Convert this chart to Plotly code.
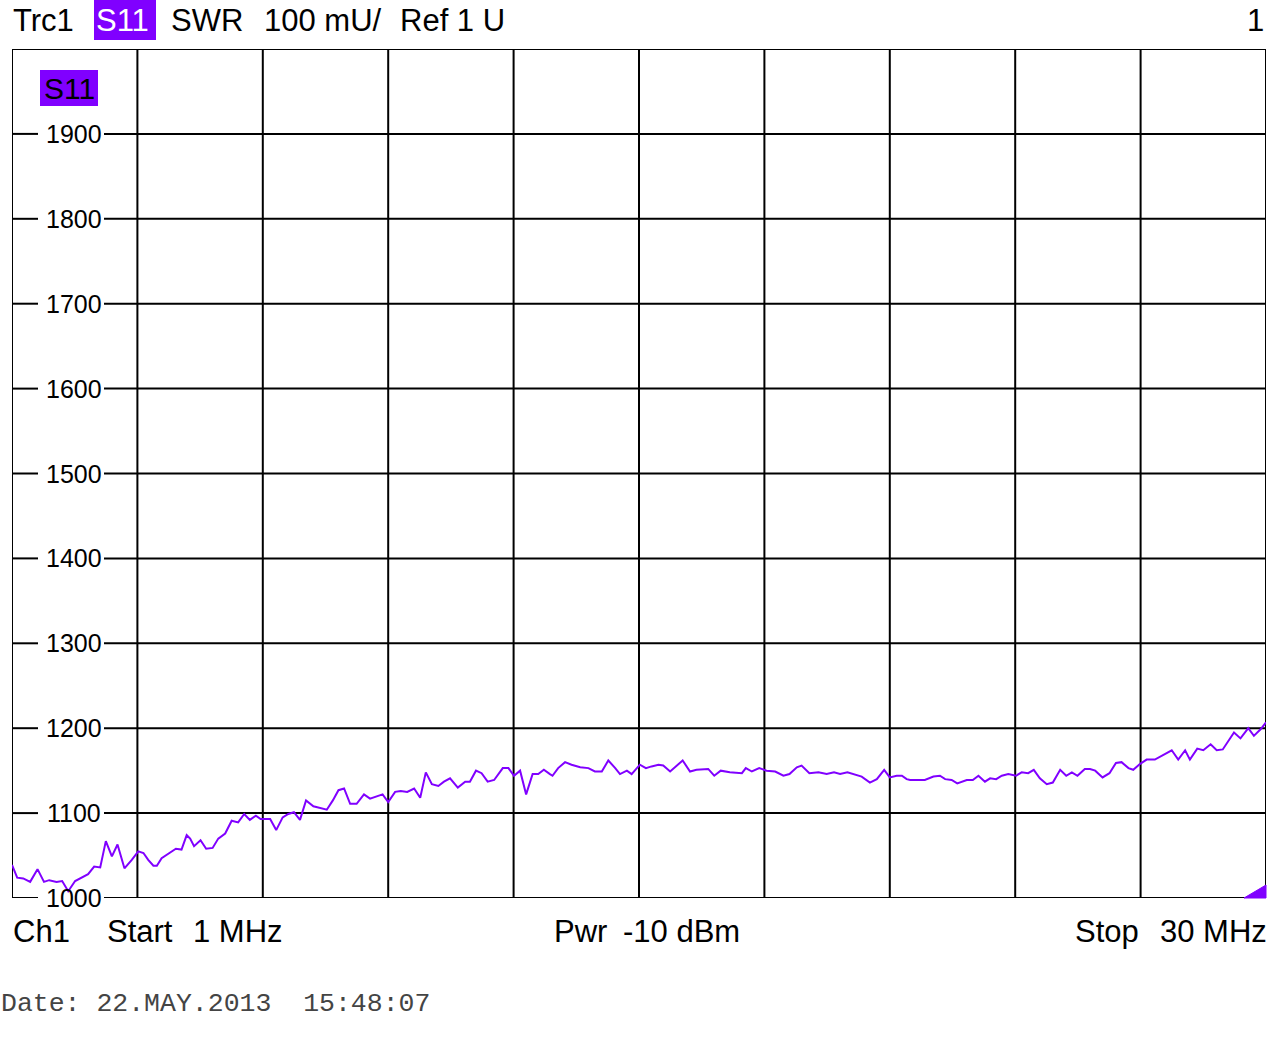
import plotly.graph_objects as go

# ---------------- data ----------------
freq_mhz = [1.00, 1.12, 1.26, 1.42, 1.59, 1.74, 1.86, 2.03, 2.16, 2.30, 2.46, 2.61, 2.76, 2.90, 3.04,
            3.17, 3.31, 3.44, 3.60, 3.77, 3.92, 4.04, 4.15, 4.27, 4.35, 4.46, 4.65, 4.79, 4.92, 5.04,
            5.12, 5.21, 5.36, 5.49, 5.64, 5.77, 5.93, 6.08, 6.23, 6.37, 6.50, 6.64, 6.75, 6.97, 7.11,
            7.26, 7.39, 7.52, 7.66, 7.80, 7.97, 8.12, 8.28, 8.42, 8.55, 8.68, 8.82, 8.97, 9.14, 9.28,
            9.42, 9.57, 9.70, 9.86, 9.99, 10.14, 10.30, 10.44, 10.57, 10.71, 10.86, 10.99, 11.13, 11.31,
            11.48, 11.59, 11.73, 11.86, 12.00, 12.15, 12.35, 12.48, 12.61, 12.75, 12.89, 13.04, 13.17,
            13.30, 13.44,
            13.50, 13.63, 13.79, 13.94, 14.14, 14.33, 14.48, 14.64, 14.79, 14.95, 15.06, 15.22, 15.33,
            15.52, 15.66, 15.79, 15.95, 16.06, 16.22, 16.51, 16.68, 16.83, 17.10, 17.24, 17.39, 17.60,
            17.88, 17.97, 18.11, 18.28, 18.45, 18.65, 18.84, 18.98, 19.15, 19.26, 19.44, 19.65, 19.84,
            20.01, 20.15, 20.32, 20.50, 20.65, 20.84, 21.00, 21.17, 21.30, 21.46, 21.58, 21.69,
            21.77, 22.11, 22.31, 22.46, 22.58, 22.73, 22.86, 23.08, 23.22, 23.35, 23.50, 23.62, 23.76,
            23.89, 24.04, 24.22, 24.35, 24.50, 24.63, 24.77, 24.93, 25.07, 25.24, 25.38, 25.51, 25.64,
            25.81, 25.93,
            26.05, 26.22, 26.38, 26.53, 26.66, 26.82, 26.93, 27.09, 27.24, 27.43, 27.57, 27.70, 27.82,
            27.97, 28.13, 28.24, 28.41, 28.55, 28.72, 28.86, 29.00, 29.26, 29.41, 29.59, 29.72, 29.88,
            30.00]

swr_mu = [1039, 1024, 1023, 1019, 1034, 1019, 1021, 1019, 1020, 1008, 1020, 1024, 1028, 1037, 1036,
          1067, 1049, 1063, 1035, 1045, 1055, 1053, 1045, 1038, 1038, 1047, 1053, 1058, 1057, 1074,
          1070, 1061, 1068, 1058, 1059, 1070, 1076, 1091, 1089, 1099, 1092, 1097, 1093, 1093, 1080,
          1095, 1099, 1101, 1092, 1115, 1108, 1106, 1104, 1115, 1127, 1129, 1111, 1111, 1122, 1117,
          1119, 1122, 1113, 1125, 1126, 1125, 1129, 1118, 1148, 1134, 1132, 1137, 1141, 1130,
          1137, 1137, 1150, 1147, 1137, 1139, 1153, 1153, 1144, 1150, 1122, 1146, 1146,
          1151, 1146,
          1144, 1153, 1160, 1157, 1154, 1153, 1149, 1149, 1162, 1153, 1146, 1150, 1146,
          1157, 1153, 1155, 1157, 1156, 1149, 1162, 1149, 1151, 1152, 1144, 1150, 1148,
          1147, 1153, 1149, 1153, 1150, 1149, 1144, 1146, 1154, 1156, 1147, 1148, 1146,
          1148, 1146, 1148, 1145, 1143, 1136, 1140, 1151, 1142, 1144, 1144, 1140,
          1139, 1139, 1143, 1144, 1140, 1139, 1135, 1139, 1139, 1144, 1137, 1141, 1140,
          1144, 1146, 1144, 1148, 1147, 1151, 1141, 1134, 1136, 1151, 1144, 1148, 1144,
          1152, 1152,
          1150, 1142, 1147, 1159, 1160, 1153, 1151, 1158, 1163, 1163, 1167, 1170, 1174,
          1163, 1174, 1163, 1176, 1174, 1181, 1174, 1175, 1195, 1188, 1200, 1191, 1199,
          1207]

x_grid_mhz = [1.0, 3.9, 6.8, 9.7, 12.6, 15.5, 18.4, 21.3, 24.2, 27.1, 30.0]
y_grid = [1000, 1100, 1200, 1300, 1400, 1500, 1600, 1700, 1800, 1900, 2000]
y_tick_labels = ["1000", "1100", "1200", "1300", "1400", "1500", "1600", "1700", "1800", "1900"]

header_texts = ["Trc1", "S11", "SWR", "100 mU/", "Ref 1 U"]
footer_texts = ["Ch1", "Start", "1 MHz", "Pwr", "-10 dBm", "Stop", "30 MHz"]
date_text = "Date:\u00a022.MAY.2013\u00a0\u00a015:48:07"

# ---------------- layout helpers (pixel -> paper) ----------------
W, H = 1278, 1052
L, R, T, B = 12, 1266, 49, 898
PURPLE = "#8000ff"
SANS = "Liberation Sans, Arial, sans-serif"


def px(x):
    return (x - L) / (R - L)


def py(y):
    return (B - y) / (B - T)


fig = go.Figure()
fig.add_trace(go.Scatter(x=freq_mhz, y=swr_mu, mode="lines",
                         line=dict(color=PURPLE, width=2), hoverinfo="skip",
                         showlegend=False))

shapes = []
# vertical grid lines
for xv in x_grid_mhz:
    shapes.append(dict(type="line", xref="x", yref="paper", x0=xv, x1=xv, y0=0, y1=1,
                       line=dict(color="black", width=2), layer="below"))
# horizontal grid lines, broken where the level label sits
gap0, gap1 = px(38), px(104)
for yv in y_grid:
    if yv == y_grid[-1]:
        shapes.append(dict(type="line", xref="paper", yref="y", x0=0, x1=1, y0=yv, y1=yv,
                           line=dict(color="black", width=2), layer="below"))
    else:
        shapes.append(dict(type="line", xref="paper", yref="y", x0=0, x1=gap0, y0=yv, y1=yv,
                           line=dict(color="black", width=2), layer="below"))
        shapes.append(dict(type="line", xref="paper", yref="y", x0=gap1, x1=1, y0=yv, y1=yv,
                           line=dict(color="black", width=2), layer="below"))

# header S11 highlight box
shapes.append(dict(type="rect", xref="paper", yref="paper", x0=px(94), x1=px(156),
                   y0=py(40), y1=py(0), fillcolor=PURPLE, line=dict(width=0), layer="below"))
# in-plot S11 box
shapes.append(dict(type="rect", xref="paper", yref="paper", x0=px(40), x1=px(98),
                   y0=py(106), y1=py(70), fillcolor=PURPLE, line=dict(width=0), layer="below"))
# small triangle marker at bottom-right
shapes.append(dict(type="path", xref="paper", yref="paper",
                   path=f"M {px(1244)},{py(898)} L {px(1266)},{py(898)} L {px(1266)},{py(885)} Z",
                   fillcolor=PURPLE, line=dict(color=PURPLE, width=1), layer="above"))

ann = []
# level labels
for lab in y_tick_labels:
    ann.append(dict(text=lab, xref="paper", yref="y", x=px(74), y=float(lab),
                    xanchor="center", yanchor="middle", showarrow=False, borderpad=0,
                    font=dict(family=SANS, size=25, color="black")))

# header
header_pos = [12, 95, 170, 263, 399]
for t, xpos in zip(header_texts, header_pos):
    ann.append(dict(text=t, xref="paper", yref="paper", x=px(xpos), y=py(21),
                    xanchor="left", yanchor="middle", showarrow=False, borderpad=0,
                    font=dict(family=SANS, size=31, color="white" if t == "S11" else "black")))
ann.append(dict(text="1", xref="paper", yref="paper", x=px(1265), y=py(21),
                xanchor="right", yanchor="middle", showarrow=False, borderpad=0,
                font=dict(family=SANS, size=31, color="black")))
# in-plot S11
ann.append(dict(text="S11", xref="paper", yref="paper", x=px(69), y=py(88),
                xanchor="center", yanchor="middle", showarrow=False, borderpad=0,
                font=dict(family=SANS, size=30, color="black")))

# footer
footer_pos = [(12, "left"), (106, "left"), (192, "left"), (553, "left"), (622, "left"),
              (1074, "left"), (1268, "right")]
for t, (xpos, anc) in zip(footer_texts, footer_pos):
    ann.append(dict(text=t, xref="paper", yref="paper", x=px(xpos), y=py(931),
                    xanchor=anc, yanchor="middle", showarrow=False, borderpad=0,
                    font=dict(family=SANS, size=31, color="black")))

ann.append(dict(text=date_text, xref="paper", yref="paper", x=px(0), y=py(1004),
                xanchor="left", yanchor="middle", showarrow=False, borderpad=0,
                font=dict(family="Liberation Mono, Courier New, monospace", size=26.5,
                          color="#444444")))

fig.update_layout(
    width=W, height=H,
    margin=dict(l=L, r=W - R, t=T, b=H - B, pad=0),
    paper_bgcolor="white", plot_bgcolor="white",
    xaxis=dict(range=[x_grid_mhz[0], x_grid_mhz[-1]], showgrid=False, zeroline=False,
               showticklabels=False, ticks="", showline=False, fixedrange=True),
    yaxis=dict(range=[y_grid[0], y_grid[-1]], showgrid=False, zeroline=False,
               showticklabels=False, ticks="", showline=False, fixedrange=True),
    shapes=shapes, annotations=ann, showlegend=False,
)

fig.write_html("out.html", config={"displayModeBar": False},
               post_script="document.body.style.margin='0';document.body.style.overflow='hidden';")
